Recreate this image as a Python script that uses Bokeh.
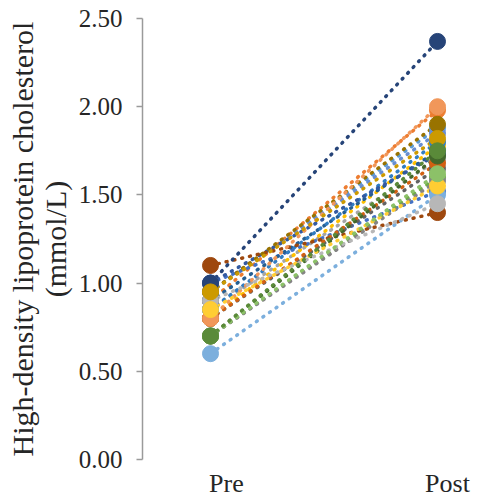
from bokeh.plotting import figure
from bokeh.models import Range1d, FixedTicker, ColumnDataSource
from bokeh.embed import file_html
from bokeh.resources import INLINE

timepoints = ["Pre", "Post"]
y_ticks = [0.0, 0.5, 1.0, 1.5, 2.0, 2.5]
y_tick_labels = ["0.00", "0.50", "1.00", "1.50", "2.00", "2.50"]

colors = ["#5B9BD5", "#ED7D31", "#A5A5A5", "#FFC000", "#4472C4", "#70AD47",
          "#255E91", "#636363", "#698ED0", "#327DC2", "#D26012", "#848484",
          "#335AA1", "#9E480E", "#997300", "#264478", "#43682B", "#7CAFDD",
          "#F1975A", "#B7B7B7", "#FFCD33", "#8CC168", "#CC9A00", "#5A8A39"]
pre_values = [0.95, 0.90, 0.85, 0.80, 1.00, 0.70,
              0.90, 0.80, 0.95, 0.85, 0.80, 0.70,
              1.00, 1.10, 0.95, 1.00, 0.70, 0.60,
              0.80, 0.90, 0.85, 0.70, 0.95, 0.70]
post_values = [1.88, 1.98, 1.70, 1.78, 1.52, 1.60,
               1.75, 1.65, 1.85, 1.80, 1.68, 1.58,
               1.73, 1.40, 1.90, 2.37, 1.72, 1.50,
               2.00, 1.45, 1.55, 1.62, 1.82, 1.75]

p = figure(width=478, height=500, output_backend="svg", toolbar_location=None,
           x_range=Range1d(-0.2996, 1.1806), y_range=Range1d(0, 2.5),
           min_border_left=142, min_border_right=0, min_border_top=18,
           min_border_bottom=41)
p.outline_line_color = None
p.xgrid.visible = False
p.ygrid.visible = False
p.background_fill_color = "white"

for c, a, b in zip(colors, pre_values, post_values):
    src = ColumnDataSource(dict(x=[0, 1], y=[a, b]))
    p.line("x", "y", source=src, line_color=c, line_width=3.5,
           line_dash="1 7", line_cap="round")
for c, a, b in zip(colors, pre_values, post_values):
    src = ColumnDataSource(dict(x=[0, 1], y=[a, b]))
    p.scatter("x", "y", source=src, size=16, fill_color=c, line_color=c)

font = "Liberation Serif"
label_pos = [0.07, 1.044]
p.xaxis.ticker = FixedTicker(ticks=label_pos)
p.xaxis.major_label_overrides = {pos: t for pos, t in zip(label_pos, timepoints)}
p.xaxis.axis_line_color = None
p.xaxis.major_tick_line_color = None
p.xaxis.major_tick_out = 0
p.xaxis.major_tick_in = 0
p.xaxis.minor_tick_line_color = None
p.xaxis.major_label_text_font = font
p.xaxis.major_label_text_font_size = "26px"
p.xaxis.major_label_text_color = "#262626"
p.xaxis.major_label_standoff = 9

p.yaxis.ticker = FixedTicker(ticks=y_ticks)
p.yaxis.major_label_overrides = {t: l for t, l in zip(y_ticks, y_tick_labels)}
p.yaxis.axis_line_color = "#9a9a9a"
p.yaxis.axis_line_width = 1.5
p.yaxis.major_tick_line_color = "#9a9a9a"
p.yaxis.major_tick_line_width = 1.5
p.yaxis.major_tick_out = 6
p.yaxis.major_tick_in = 0
p.yaxis.minor_tick_line_color = None
p.yaxis.major_label_text_font = font
p.yaxis.major_label_text_font_size = "25px"
p.yaxis.major_label_text_color = "#262626"
p.yaxis.major_label_standoff = 14
p.yaxis.axis_label = "High-density lipoprotein cholesterol\n(mmol/L)"
p.yaxis.axis_label_text_font = font
p.yaxis.axis_label_text_font_size = "30px"
p.yaxis.axis_label_text_font_style = "normal"
p.yaxis.axis_label_text_color = "#262626"
p.yaxis.axis_label_text_line_height = 1.0
p.yaxis.axis_label_standoff = 4
p.yaxis.axis_label_text_align = "center"

open("out.html", "w").write(file_html(p, INLINE))
